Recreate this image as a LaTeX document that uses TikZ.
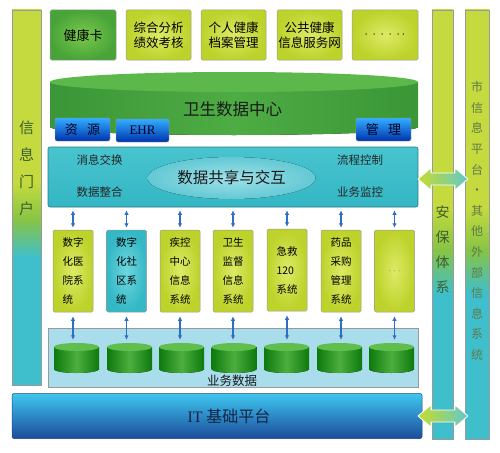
\documentclass[tikz,border=0pt]{standalone}
\usepackage{fontspec}
\setmainfont{Noto Sans CJK SC}
\newfontfamily\lserif{Liberation Serif}
\usetikzlibrary{arrows.meta}
\definecolor{yg}{HTML}{BDD22A}
\definecolor{yglight}{HTML}{DCEA66}
\definecolor{tealc}{HTML}{3CBCC8}
\definecolor{bargreen}{HTML}{86C445}
\definecolor{baryg}{HTML}{C4DA3E}
\definecolor{barteal}{HTML}{3FBFCB}
\definecolor{arrowblue}{HTML}{2E6FC4}
\definecolor{bartext}{HTML}{3D5F2E}
\definecolor{outertext}{HTML}{5E7A4A}
\pgfdeclareverticalshading{barshade}{100bp}{color(0bp)=(barteal); color(42bp)=(barteal); color(47bp)=(bargreen); color(52bp)=(baryg); color(100bp)=(baryg)}
\newcommand\dbcyl[3]{%
  \node[inner sep=0pt, minimum width=45pt, minimum height=30pt] (#1) at (#2,#3+15) {};
  \fill[dbbody] (#2,#3+26) ellipse [x radius=22.5, y radius=4];
  \fill[dbbody] (#2-22.5,#3+4) rectangle (#2+22.5,#3+26);
  \fill[dbtop] (#2,#3+4) ellipse [x radius=22.5, y radius=4];
}
\newcommand\bigdblarrow[2]{% y centre, name
  \coordinate (#2) at (443,#1);
  \draw[bigarrow] (418,#1) -- (431,#1-11) -- (431,#1-6) -- (455,#1-6) -- (455,#1-11) -- (468,#1)
     -- (455,#1+11) -- (455,#1+6) -- (431,#1+6) -- (431,#1+11) -- cycle;
}
\begin{document}
\begin{tikzpicture}[x=1pt,y=-1pt,
  box/.style={draw=black!40, line width=0.5pt, rounded corners=1.5pt, inner sep=0pt, align=center},
  ygbox/.style={box, inner color=yglight, outer color=yg},
  topbox/.style={ygbox, minimum width=65pt, minimum height=50pt, font=\fontsize{12.5}{14.5}\selectfont},
  sysbox/.style={ygbox, minimum width=40pt, minimum height=82pt, font=\fontsize{10.5}{19}\selectfont, align=left},
  bar/.style={draw=black!40, line width=0.5pt, shading=barshade, inner sep=0pt},
  btn/.style={draw=black!40, rounded corners=2pt, top color=cyan!60!blue!80, bottom color=blue!60!black!80!cyan, minimum width=55pt, minimum height=23pt, inner sep=0pt, font=\fontsize{13}{13}\selectfont, text=black!85!blue},
  dbbody/.style={left color=green!45!black!95, right color=green!45!black!95, middle color={rgb,255:red,76;green,174;blue,62}},
  dbtop/.style={fill={rgb,255:red,96;green,190;blue,76}},
  dcbody/.style={left color={rgb,255:red,58;green,150;blue,54}, right color={rgb,255:red,58;green,150;blue,54}, middle color={rgb,255:red,78;green,172;blue,68}},
  dbl/.style={{Latex[length=4.5pt,width=4.5pt]}-{Latex[length=4.5pt,width=4.5pt]}, draw=arrowblue, line width=1.3pt},
  bigarrow/.style={left color={rgb,255:red,196;green,220;blue,50}, right color={rgb,255:red,96;green,200;blue,205}, middle color={rgb,255:red,150;green,210;blue,120}, draw=white, line width=0.8pt, line join=round},
  lbl/.style={font=\fontsize{11.5}{12}\selectfont, text=black!85}
]
\useasboundingbox (0,0) rectangle (500,452);

% vertical bars
\node[bar, minimum width=29pt, minimum height=375pt] (portal) at (26.5,197.5) {};
\node[font=\fontsize{15}{27}\selectfont, align=center, text=bartext] (portaltxt) at (26.5,168) {信\\息\\门\\户};
\node[bar, minimum width=21pt, minimum height=429pt] (sec) at (442.5,224.5) {};
\node[font=\fontsize{14}{25}\selectfont, align=center, text=bartext] (sectxt) at (442.5,250) {安\\保\\体\\系};
\node[bar, minimum width=24pt, minimum height=429pt] (outer) at (477,224.5) {};
\node[font=\fontsize{12}{20.6}\selectfont, align=center, text=outertext] (outertxt) at (477,221) {市\\信\\息\\平\\台\\•\\其\\他\\外\\部\\信\\息\\系\\统};

% top boxes
\node[box, minimum width=66pt, minimum height=50pt, font=\fontsize{13}{15}\selectfont, inner color={rgb,255:red,124;green,200;blue,76}, outer color={rgb,255:red,72;green,164;blue,56}] (card) at (83,35) {健康卡};
\node[topbox] (perf) at (158.5,35) {综合分析\\绩效考核};
\node[topbox] (ehrm) at (233.5,35) {个人健康\\档案管理};
\node[topbox] (pub) at (309.5,35) {公共健康\\信息服务网};
\node[topbox, minimum width=66pt] (more) at (385,35) {$\cdot\,\cdot\,\cdot\,\cdot\,\cdot\,\cdot$};

% data centre cylinder
\fill[dcbody] (234,127) ellipse [x radius=184, y radius=8];
\fill[dcbody] (50,82) rectangle (418,127);
\fill[fill={rgb,255:red,92;green,184;blue,75}] (234,82) ellipse [x radius=184, y radius=10];
\node[font=\fontsize{16.5}{18}\selectfont, text=black!90] (dc) at (232.5,109) {卫生数据中心};
\node[btn] (res) at (82.5,129.5) {资\hspace{0.7em}源};
\node[btn, minimum width=53pt] (ehr) at (142.5,130.5) {\lserif EHR};
\node[btn] (mgmt) at (383.5,129.5) {管\hspace{0.7em}理};

% sharing box
\node[draw=black!35!tealc, line width=0.6pt, rounded corners=2pt, top color={rgb,255:red,72;green,196;blue,206}, bottom color={rgb,255:red,52;green,182;blue,196}, minimum width=370pt, minimum height=60pt, inner sep=0pt] (share) at (233,177) {};
\fill[inner color={rgb,255:red,160;green,224;blue,232}, outer color={rgb,255:red,98;green,201;blue,212}] (231.5,178) ellipse [x radius=84, y radius=21];
\node[font=\fontsize{15.5}{16}\selectfont, text=black!90] (sharetxt) at (231.5,178) {数据共享与交互};
\node[lbl] (l1) at (99.5,160) {消息交换};
\node[lbl] (l2) at (99.5,192) {数据整合};
\node[lbl] (l3) at (360,160) {流程控制};
\node[lbl] (l4) at (360,192) {业务监控};

% system boxes
\node[sysbox] (s1) at (73,271) {数字\\化医\\院系\\统};
\node[sysbox, inner color={rgb,255:red,110;green,214;blue,222}, outer color={rgb,255:red,52;green,184;blue,197}] (s2) at (126.5,271) {数字\\化社\\区系\\统};
\node[sysbox] (s3) at (180,271) {疾控\\中心\\信息\\系统};
\node[sysbox] (s4) at (233,271) {卫生\\监督\\信息\\系统};
\node[sysbox] (s5) at (287,270) {急救\\120\\系统};
\node[sysbox] (s6) at (341,271) {药品\\采购\\管理\\系统};
\node[sysbox, font=\fontsize{9}{10}\selectfont, text=black!60] (s7) at (394.5,271) {$\cdot\cdot\cdot$};

% business data
\node[draw=black!40, line width=0.5pt, fill={rgb,255:red,169;green,221;blue,236}, minimum width=370pt, minimum height=59pt, inner sep=0pt] (biz) at (233,357.5) {};
\dbcyl{db1}{76.5}{343}
\dbcyl{db2}{129.5}{343}
\dbcyl{db3}{181.5}{343}
\dbcyl{db4}{234}{343}
\dbcyl{db5}{286.5}{343}
\dbcyl{db6}{339.5}{343}
\dbcyl{db7}{391.5}{343}
\node[font=\fontsize{12.5}{13}\selectfont, text=black!90] (biztxt) at (232,381) {业务数据};

% IT platform
\node[draw={rgb,255:red,30;green,70;blue,130}, line width=0.5pt, rounded corners=2pt, top color={rgb,255:red,62;green,198;blue,238}, bottom color={rgb,255:red,28;green,76;blue,156}, minimum width=410pt, minimum height=45pt, inner sep=0pt, font=\fontsize{16}{16}\selectfont, text={rgb,255:red,20;green,36;blue,70}] (it) at (217,416) {\hspace*{24pt}{\lserif IT} 基础平台};

% arrows
\foreach \s/\d in {s1/db1,s2/db2,s3/db3,s4/db4,s5/db5,s6/db6,s7/db7}{
  \draw[dbl, shorten <=3pt, shorten >=2pt] (share.south -| \s) -- (\s.north);
  \draw[dbl, shorten <=4pt, shorten >=3pt] (\s.south) -- (\s.south |- \d.north);
}
\bigdblarrow{179}{a1}
\bigdblarrow{416}{a2}
\end{tikzpicture}
\end{document}
